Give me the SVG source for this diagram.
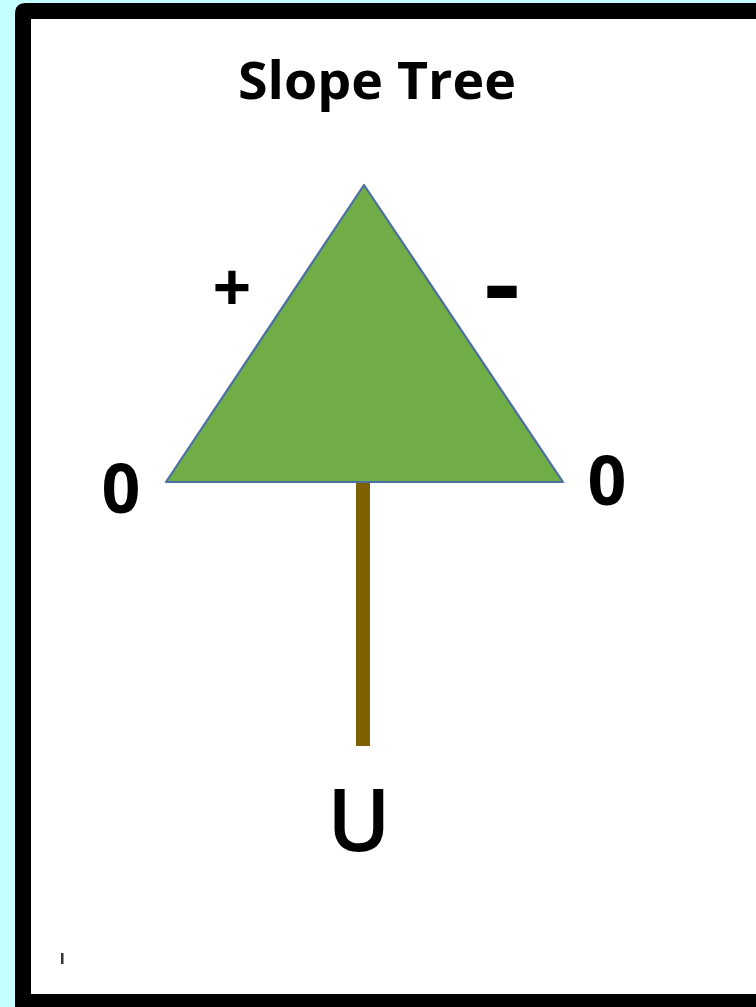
<svg xmlns="http://www.w3.org/2000/svg" width="756" height="1007" viewBox="0 0 756 1007">
<style>
text{font-family:"Open Sans","Liberation Sans",sans-serif;font-weight:700;fill:#000;text-anchor:middle}
.b{font-size:68px}
</style>
<rect width="756" height="1007" fill="#c6ffff"/>
<path d="M756 3H26Q15 3 15 14V1007H756Z" fill="#000"/>
<rect x="31" y="19" width="725" height="975" fill="#fff"/>
<g id="title"><text x="377" y="99" font-size="52" textLength="278" lengthAdjust="spacingAndGlyphs">Slope Tree</text></g>
<g id="connectors"><rect x="356" y="481" width="14" height="265" fill="#7f6000"/></g>
<g id="tree"><polygon points="364,185 166,482 563,482" fill="#70ad47" stroke="#4a6fa5" stroke-width="2.2" stroke-linejoin="round"/></g>
<g id="labels">
<text class="b" x="232" y="312">+</text>
<text class="b" x="502" y="319" textLength="36" lengthAdjust="spacingAndGlyphs" style="font-size:100px">-</text>
<text class="b" x="121" y="513">0</text>
<text class="b" x="607" y="505">0</text>
<text x="359" y="851" font-size="86" style="font-weight:600">U</text>
</g>
<rect x="61" y="953" width="2.5" height="11" fill="#333"/>
</svg>
